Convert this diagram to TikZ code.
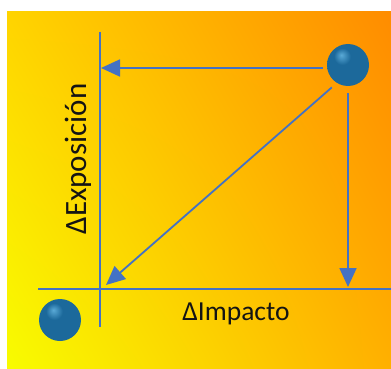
\documentclass[tikz,border=0pt]{standalone}
\usepackage{fontspec}
\setmainfont{Carlito}
\usetikzlibrary{arrows.meta,shadings}
\definecolor{bgtl}{RGB}{255,212,0}
\definecolor{bgtr}{RGB}{255,140,0}
\definecolor{bgbl}{RGB}{248,252,0}
\definecolor{bgbr}{RGB}{255,176,0}
\definecolor{axisblue}{RGB}{68,114,196}
\definecolor{ballhi}{RGB}{90,170,215}
\definecolor{ballmid}{RGB}{28,105,155}
\definecolor{balledge}{RGB}{12,52,85}
\pgfdeclareradialshading{myball}{\pgfpoint{-8bp}{12bp}}{%
  color(0bp)=(ballhi); color(10bp)=(ballmid); color(32bp)=(ballmid); color(52bp)=(balledge); color(70bp)=(balledge)}
\tikzset{
  axisline/.style={draw=axisblue, line width=1.8pt},
  arr/.style={draw=axisblue, line width=1.8pt, -{Triangle[length=19pt,width=17pt]}},
  ballnode/.style={circle, minimum size=42pt, inner sep=0pt, shading=myball},
  lbl/.style={text=black!92, inner sep=0pt}
}
\begin{document}
\begin{tikzpicture}[x=1pt,y=-1pt]
\useasboundingbox (0,0) rectangle (391,369);
\shade[upper left=bgtl, upper right=bgtr, lower left=bgbl, lower right=bgbr] (7,12) rectangle (391,369);
% axes
\coordinate (vtop) at (100,32);
\coordinate (vbot) at (100,327);
\coordinate (hleft) at (38,289);
\coordinate (hright) at (391,289);
\path[axisline] (vtop) -- (vbot);
\path[axisline] (hleft) -- (hright);
% balls
\node[ballnode] (b1) at (348,65) {};
\node[ballnode] (b0) at (60,320) {};
% arrow targets
\coordinate (t1) at (101,68);
\coordinate (t2) at (348,287);
\coordinate (t3) at (106,285);
\draw[arr] ([shift={(-4pt,-3pt)}]b1.west) -- (t1);
\draw[arr] ([yshift=-7pt]b1.south) -- (t2);
\draw[arr] ([shift={(-4pt,-5pt)}]b1.235) -- (t3);
% labels
\node[lbl, font=\fontsize{27.5}{30}\selectfont] (limp) at (236,314) {ΔImpacto};
\node[lbl, font=\fontsize{31}{34}\selectfont, rotate=90] (lexp) at (78,159) {ΔExposición};
\end{tikzpicture}
\end{document}
